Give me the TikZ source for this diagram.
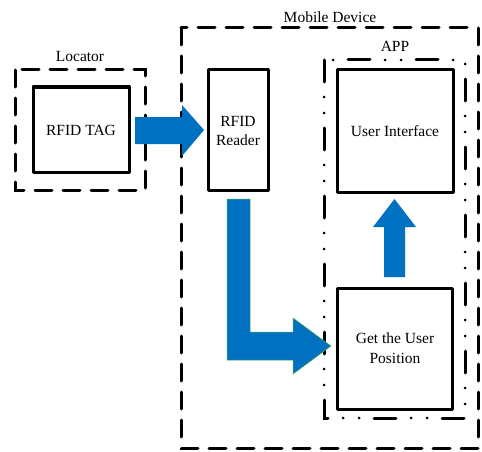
\documentclass[tikz,border=0pt]{standalone}
\usepackage{fontspec}
\setmainfont{Liberation Serif}
\begin{document}
\begin{tikzpicture}[x=1pt,y=-1pt,
  solidbox/.style={draw=black,line width=3pt,line join=round,inner sep=0pt},
  dashbox/.style={draw=black,line width=3pt,dash pattern=on 17pt off 11pt,line cap=round},
  dashdotbox/.style={draw=black,line width=3pt,line cap=round,dash pattern=on 22pt off 15pt on 0pt off 16pt on 0pt off 15pt},
  lbl/.style={font=\fontsize{15.5}{18}\selectfont,inner sep=0pt},
  blockarrow/.style={fill=arrowblue},
]
\definecolor{arrowblue}{HTML}{0070C0}
\useasboundingbox (0,0) rectangle (482,452);
% containers
\draw[dashbox] (15,70) rectangle (145,190);
\node[lbl] (loclbl) at (80,57) {Locator};
\draw[dashbox] (181,28) rectangle (478,448);
\node[lbl] (mdlbl) at (330,17) {Mobile Device};
\draw[dashdotbox] (324,60) rectangle (465,418);
\node[lbl] (applbl) at (395,46) {APP};
% boxes
\draw[solidbox] (33,87) rectangle (129,172);
\node[lbl] (tag) at (81,130) {RFID TAG};
\draw[solidbox] (208,70) rectangle (268,190);
\node[lbl,align=center] (reader) at (238,131) {RFID\\[1pt]Reader};
\draw[solidbox] (337,70) rectangle (453,192);
\node[lbl] (ui) at (395,131) {User Interface};
\draw[solidbox] (337,288) rectangle (452,409);
\node[lbl,align=center] (pos) at (395,348) {Get the User\\[2pt]Position};
% arrows
\fill[blockarrow] (135,117) -- (182,117) -- (182,105) -- (204,130) -- (182,156) -- (182,144) -- (135,144) -- cycle;
\filldraw[blockarrow,draw=green!55!black!70,line width=0.5pt] (227,199) -- (250,199) -- (250,332) -- (293,332) -- (293,318) -- (331,346) -- (293,374) -- (293,360) -- (227,360) -- cycle;
\fill[blockarrow] (384,277) -- (405,277) -- (405,227) -- (416,227) -- (394.5,199) -- (373,227) -- (384,227) -- cycle;
\end{tikzpicture}
\end{document}
